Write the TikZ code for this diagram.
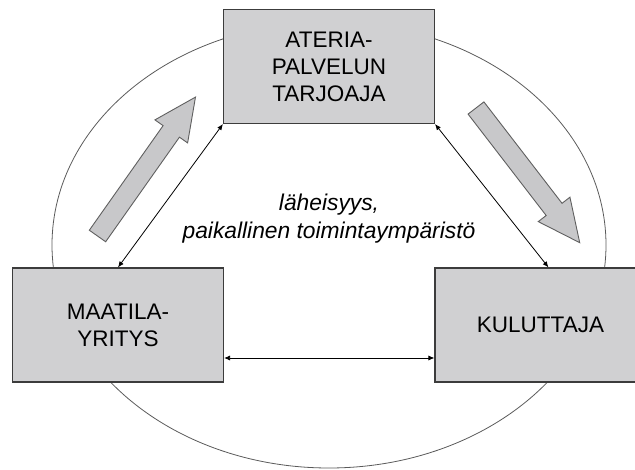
\documentclass[tikz,border=0pt]{standalone}
\usepackage{fontspec}
\setmainfont{Liberation Sans}
\usetikzlibrary{arrows.meta}
\definecolor{boxfill}{RGB}{208,208,210}
\definecolor{boxline}{RGB}{60,60,60}
\definecolor{arrfill}{RGB}{200,200,202}
\definecolor{arrline}{RGB}{95,95,95}
\definecolor{ringline}{RGB}{90,90,90}
\tikzset{
  actor/.style={draw=boxline, line width=1.1pt, fill=boxfill, rectangle,
    minimum width=211pt, minimum height=114pt, inner sep=0pt, align=center,
    font=\fontsize{22.5}{27}\selectfont},
  link/.style={line width=0.8pt, {Latex[length=6pt,width=5pt]}-{Latex[length=6pt,width=5pt]}},
  flow/.style={draw=arrline, line width=0.9pt, fill=arrfill, line join=miter},
  ring/.style={draw=ringline, line width=0.8pt}
}
\begin{document}
\begin{tikzpicture}[x=1pt,y=-1pt]
\useasboundingbox (0,0) rectangle (635,470);
\draw[ring] (329,245) ellipse [x radius=277, y radius=223];
\node[actor] (top) at (329,66.5) {ATERIA-\\PALVELUN\\TARJOAJA};
\node[actor] (left) at (118,325) {MAATILA-\\YRITYS};
\node[actor] (right) at (540.5,325) {KULUTTAJA};
\draw[link] (left.north) -- (top.south west);
\draw[link] (top.south east) -- ([xshift=8pt]right.north);
\draw[link] ([yshift=-33pt]left.east) -- ([yshift=-33pt]right.west);
\node[font=\fontsize{22.8}{28}\selectfont\itshape, align=center, inner sep=0pt] (env) at (329,219)
  {läheisyys,\\paikallinen toimintaympäristö};
\begin{scope}[shift={(97.5,236)}, rotate=54.8]
  \draw[flow] (0,-10) -- (128,-10) -- (128,-20) -- (170,0) -- (128,20) -- (128,10) -- (0,10) -- cycle;
\end{scope}
\begin{scope}[shift={(476,108)}, rotate=-52.4]
  \draw[flow] (0,-10) -- (128,-10) -- (128,-20) -- (170,0) -- (128,20) -- (128,10) -- (0,10) -- cycle;
\end{scope}
\end{tikzpicture}
\end{document}
